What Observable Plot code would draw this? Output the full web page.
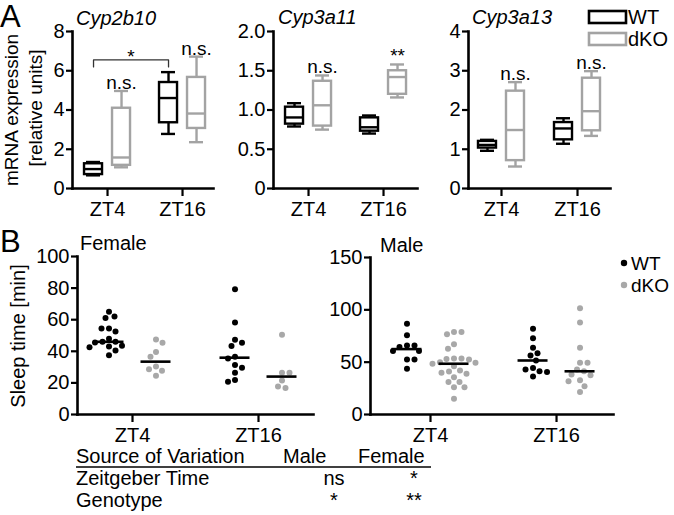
<!DOCTYPE html>
<html><head><meta charset="utf-8">
<script src="https://cdn.jsdelivr.net/npm/d3@7"></script>
<script src="https://cdn.jsdelivr.net/npm/@observablehq/plot@0.6"></script>
<style>
html,body{margin:0;padding:0;background:#fff;}
#chart{position:relative;width:674px;height:515px;overflow:hidden;font-family:"Liberation Sans",Arial,sans-serif;}
#chart svg{position:absolute;}
</style></head><body><div id="chart"></div>
<script>
// ---------- data ----------
const times = ["ZT4", "ZT16"];
const genotypes = ["WT", "dKO"];
const genes = ["Cyp2b10", "Cyp3a11", "Cyp3a13"];

// five-number summaries [min, q1, median, q3, max]; first ZT4, then ZT16
const cyp2b10WT  = [[0.67, 0.71, 0.99, 1.26, 1.35], [2.78, 3.35, 4.61, 5.40, 5.93]];
const cyp2b10dKO = [[1.08, 1.18, 1.58, 4.09, 4.97], [2.36, 3.06, 3.82, 5.66, 6.72]];
const cyp3a11WT  = [[0.79, 0.82, 0.905, 1.036, 1.087], [0.70, 0.73, 0.78, 0.90, 0.93]];
const cyp3a11dKO = [[0.75, 0.795, 1.06, 1.366, 1.44], [1.16, 1.20, 1.42, 1.50, 1.58]];
const cyp3a13WT  = [[0.96, 1.03, 1.11, 1.20, 1.24], [1.14, 1.24, 1.53, 1.68, 1.79]];
const cyp3a13dKO = [[0.56, 0.71, 1.49, 2.48, 2.71], [1.34, 1.47, 1.97, 2.81, 2.99]];

const yTicksA = [[0, 2, 4, 6, 8], [0, 0.5, 1, 1.5, 2], [0, 1, 2, 3, 4]];
const yMaxA = [8, 2, 4];

// dKO vs WT significance per time (ZT4, ZT16)
const sigCyp2b10 = ["n.s.", "n.s."];
const sigCyp3a11 = ["n.s.", "**"];
const sigCyp3a13 = ["n.s.", "n.s."];
// WT ZT4 vs WT ZT16 for Cyp2b10
const bracketLabel = "*";
const bracketLevel = 6.55;

// sleep time [min]
const femaleWT_ZT4  = [65, 62, 61, 54.5, 54.5, 52.5, 48, 46, 46, 45.5, 43.5, 43, 42.5, 40.5, 37.5];
const femaleDKO_ZT4 = [47.5, 45.4, 39.6, 36.5, 30.4, 28.7, 27.7, 24.6];
const femaleWT_ZT16 = [79.2, 58.3, 47.3, 45.4, 43.3, 36.5, 35.4, 31.4, 29.6, 26.5, 21.9, 20.8];
const femaleDKO_ZT16 = [50.4, 26.5, 26.5, 21.5, 17.7, 16.7];
const maleWT_ZT4  = [86.8, 75.6, 66, 66, 64.4, 60.6, 60.6, 52.6, 52.6, 43.6];
const maleDKO_ZT4 = [78.8, 78.8, 76.6, 67, 62.8, 53.5, 53.5, 53, 52.6, 50, 49.4, 48.5, 46.2, 42, 41, 40, 39, 35.6, 31, 31, 26, 26, 15];
const maleWT_ZT16 = [82, 72.8, 63.8, 58.4, 56.4, 51.6, 44.5, 43, 41.3, 40.7, 36.2];
const maleDKO_ZT16 = [101.6, 87.8, 63.8, 49.4, 49.4, 43, 41.3, 38.1, 37.5, 32.7, 31.7, 27, 21.4];

const yTicksFemale = [0, 20, 40, 60, 80, 100];
const yTicksMale = [0, 50, 100, 150];

// ANOVA table
const tableHeader = ["Source of Variation", "Male", "Female"];
const tableSources = ["Zeitgeber Time", "Genotype"];
const tableMale = ["ns", "*"];
const tableFemale = ["*", "**"];

// ---------- styles / layout ----------
const FONT = '"Liberation Sans", Arial, sans-serif';
const colorOf = {WT: "#000000", dKO: "#a3a3a3"};
const dotColorOf = {WT: "#000000", dKO: "#a8a8a8"};
const groupShiftPx = {WT: -14, dKO: 14};
const dotShiftPx = {WT: -23.5, dKO: 23.5};

const chart = document.getElementById("chart");

function framePlot({L, R, T, B, xdom, ydom, yticks, yfmt, marks}) {
  const mL = 60, mR = 8, mT = 20, mB = 40;
  const svg = Plot.plot({
    width: R - L + mL + mR,
    height: B - T + mT + mB,
    marginLeft: mL, marginRight: mR, marginTop: mT, marginBottom: mB,
    style: {background: "transparent", fontFamily: FONT, fontSize: "20px", color: "black", overflow: "visible"},
    x: {domain: xdom, label: null},
    y: {domain: ydom, label: null},
    marks: [
      Plot.axisY({ticks: yticks, tickFormat: yfmt, tickSize: 6, tickPadding: 2, strokeWidth: 2.2, label: null}),
      Plot.axisX({ticks: [1, 2], tickFormat: d => times[d - 1], tickSize: 8, tickPadding: 5, strokeWidth: 2.2, label: null}),
      ...marks,
      Plot.frame({anchor: "left", strokeWidth: 2.6}),
      Plot.frame({anchor: "bottom", strokeWidth: 2.6})
    ]
  });
  svg.style.left = (L - mL) + "px";
  svg.style.top = (T - mT) + "px";
  chart.appendChild(svg);
}

// ---------- panel A: box plots ----------
const layoutA = [
  {L: 72, R: 213, T: 31, B: 188, xdom: [0.533, 2.413]},
  {L: 273, R: 417, T: 31, B: 188, xdom: [0.533, 2.453]},
  {L: 468, R: 610, T: 31, B: 188, xdom: [0.566, 2.434]}
];
const boxSets = [
  {WT: cyp2b10WT, dKO: cyp2b10dKO, sig: sigCyp2b10},
  {WT: cyp3a11WT, dKO: cyp3a11dKO, sig: sigCyp3a11},
  {WT: cyp3a13WT, dKO: cyp3a13dKO, sig: sigCyp3a13}
];

boxSets.forEach((set, gi) => {
  const lay = layoutA[gi];
  const ux = (lay.xdom[1] - lay.xdom[0]) / (lay.R - lay.L); // data units per px
  const uy = yMaxA[gi] / (lay.B - lay.T);
  const rows = [];
  genotypes.forEach(g => times.forEach((t, ti) => {
    const [min, q1, med, q3, max] = set[g][ti];
    const c = ti + 1 + groupShiftPx[g] * ux;
    rows.push({g, t, c, min, q1, med, q3, max,
      b1: c - 9 * ux, b2: c + 9 * ux, k1: c - 7 * ux, k2: c + 7 * ux,
      sig: g === "dKO" ? set.sig[ti] : null});
  }));
  const stroke = d => colorOf[d.g];
  const sw = 2.4;
  const marks = [
    Plot.ruleX(rows, {x: "c", y1: "min", y2: "q1", stroke, strokeWidth: sw}),
    Plot.ruleX(rows, {x: "c", y1: "q3", y2: "max", stroke, strokeWidth: sw}),
    Plot.ruleY(rows, {y: "min", x1: "k1", x2: "k2", stroke, strokeWidth: sw}),
    Plot.ruleY(rows, {y: "max", x1: "k1", x2: "k2", stroke, strokeWidth: sw}),
    Plot.rect(rows, {x1: "b1", x2: "b2", y1: "q1", y2: "q3", fill: "white", stroke, strokeWidth: sw}),
    Plot.ruleY(rows, {y: "med", x1: "b1", x2: "b2", stroke, strokeWidth: sw}),
    Plot.text(rows.filter(d => d.sig), {x: "c", y: "max", text: "sig", lineAnchor: "bottom", dy: -2, fontSize: 19})
  ];
  if (gi === 0) {
    const wt = rows.filter(d => d.g === "WT");
    const drop = 7 * uy;
    const pts = [
      {x: wt[0].c, y: bracketLevel - drop}, {x: wt[0].c, y: bracketLevel},
      {x: wt[1].c, y: bracketLevel}, {x: wt[1].c, y: bracketLevel - drop}
    ];
    marks.push(Plot.line(pts, {x: "x", y: "y", stroke: "#333", strokeWidth: 1.3}));
    marks.push(Plot.text([bracketLabel], {x: (wt[0].c + wt[1].c) / 2, y: bracketLevel, text: d => d, lineAnchor: "bottom", dy: 3, fontSize: 19}));
  }
  framePlot({
    ...lay, ydom: [0, yMaxA[gi]], yticks: yTicksA[gi],
    yfmt: d => (gi === 1 && d !== 0) ? d.toFixed(1) : String(d),
    marks
  });
});

// ---------- panel B: scatter with medians ----------
function swarmOffsets(values, pxPerUnit, sep) {
  const order = values.map((v, i) => ({i, y: v * pxPerUnit})).sort((a, b) => b.y - a.y);
  const placed = [];
  const out = new Array(values.length).fill(0);
  for (const p of order) {
    const bias = d3.sum(placed, q => q.x);
    let best = 0;
    search: for (let s = 0; s < 120; s += 0.5) {
      const cands = s === 0 ? [0] : (bias > 0 ? [-s, s] : [s, -s]);
      for (const c of cands) {
        if (placed.every(q => Math.hypot(q.x - c, q.y - p.y) >= sep)) { best = c; break search; }
      }
    }
    placed.push({x: best, y: p.y});
    out[p.i] = best;
  }
  return out;
}

function sleepPanel(lay, ymax, yticks, groups) {
  const ux = (lay.xdom[1] - lay.xdom[0]) / (lay.R - lay.L);
  const pyu = (lay.B - lay.T) / ymax; // px per data unit
  const dots = [], meds = [];
  groups.forEach(({g, ti, values}) => {
    const c = ti + 1 + dotShiftPx[g] * ux;
    const offs = swarmOffsets(values, pyu, 7.2);
    values.forEach((v, i) => dots.push({g, x: c + offs[i] * ux, y: v}));
    meds.push({g, y: d3.median(values), x1: c - 15 * ux, x2: c + 15 * ux});
  });
  framePlot({
    ...lay, ydom: [0, ymax], yticks, yfmt: d => String(d),
    marks: [
      Plot.dot(dots, {x: "x", y: "y", r: 3, fill: d => dotColorOf[d.g], stroke: "none"}),
      Plot.ruleY(meds, {y: "y", x1: "x1", x2: "x2", stroke: "black", strokeWidth: 2.6})
    ]
  });
}

sleepPanel({L: 77, R: 313, T: 256, B: 414, xdom: [0.5635, 2.4365]}, 100, yTicksFemale, [
  {g: "WT", ti: 0, values: femaleWT_ZT4}, {g: "dKO", ti: 0, values: femaleDKO_ZT4},
  {g: "WT", ti: 1, values: femaleWT_ZT16}, {g: "dKO", ti: 1, values: femaleDKO_ZT16}
]);
sleepPanel({L: 370, R: 613, T: 257, B: 414, xdom: [0.524, 2.452]}, 150, yTicksMale, [
  {g: "WT", ti: 0, values: maleWT_ZT4}, {g: "dKO", ti: 0, values: maleDKO_ZT4},
  {g: "WT", ti: 1, values: maleWT_ZT16}, {g: "dKO", ti: 1, values: maleDKO_ZT16}
]);

// ---------- overlay texts, legends, table ----------
const ov = d3.select(chart).append("svg")
  .attr("width", 674).attr("height", 515)
  .style("left", "0px").style("top", "0px")
  .style("font-family", FONT).style("overflow", "visible");

function txt(x, y, s, size, opts = {}) {
  const t = ov.append("text").attr("x", x).attr("y", y).attr("font-size", size).text(s);
  if (opts.anchor) t.attr("text-anchor", opts.anchor);
  if (opts.italic) t.attr("font-style", "italic");
  if (opts.rotate) t.attr("transform", `rotate(-90 ${x} ${y})`);
  if (opts.fill) t.attr("fill", opts.fill);
  return t;
}

txt(0, 27, "A", 31);
txt(0, 252, "B", 31);
txt(76, 25, genes[0], 20, {italic: true});
txt(278, 24, genes[1], 20, {italic: true});
txt(472, 24, genes[2], 20, {italic: true});
txt(18, 110, "mRNA expression", 19, {anchor: "middle", rotate: true});
txt(42, 108, "[relative units]", 19, {anchor: "middle", rotate: true});
txt(25, 336, "Sleep time [min]", 20, {anchor: "middle", rotate: true});
txt(80, 250, "Female", 20);
txt(380, 252, "Male", 20);

// legend A (boxes)
genotypes.forEach((g, i) => {
  ov.append("rect").attr("x", 589).attr("y", 11 + i * 22).attr("width", 37).attr("height", 12)
    .attr("fill", "white").attr("stroke", colorOf[g]).attr("stroke-width", 2.6);
  txt(628, 24 + i * 22, g, 20);
});
// legend B (dots)
genotypes.forEach((g, i) => {
  ov.append("circle").attr("cx", 624).attr("cy", 263 + i * 22).attr("r", 3.2).attr("fill", dotColorOf[g]);
  txt(631, 270 + i * 22, g, 19);
});

// table
txt(76, 463, tableHeader[0], 20);
txt(283, 463, tableHeader[1], 20);
txt(358, 463, tableHeader[2], 20);
ov.append("line").attr("x1", 76).attr("x2", 431).attr("y1", 467).attr("y2", 467)
  .attr("stroke", "black").attr("stroke-width", 1.6);
tableSources.forEach((s, i) => {
  const y = 485 + i * 22;
  txt(76, y, s, 20);
  txt(334, y, tableMale[i], 20, {anchor: "middle"});
  txt(414, y, tableFemale[i], 20, {anchor: "middle"});
});
</script></body></html>
